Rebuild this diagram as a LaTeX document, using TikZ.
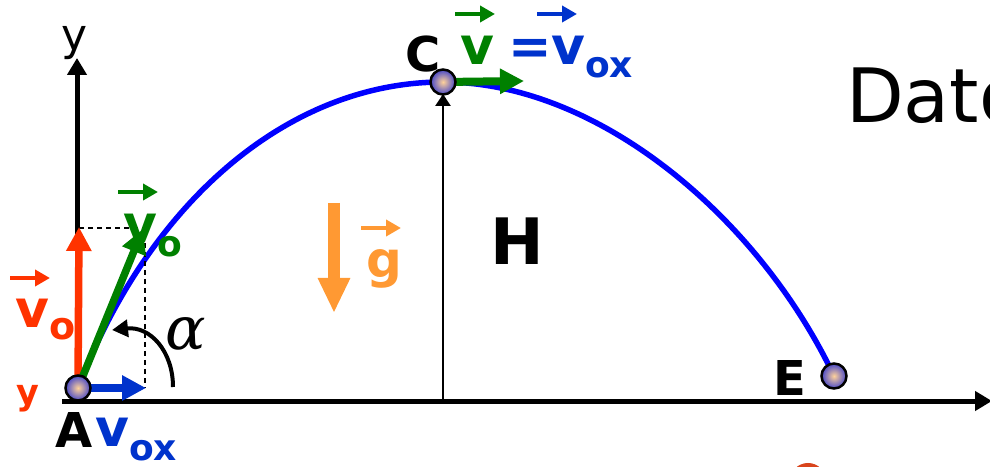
\documentclass[tikz,border=0pt]{standalone}
\usepackage{fontspec}
\setmainfont{DejaVu Sans}
\newfontfamily\grkfont{DejaVu Serif}
\usepackage{xcolor}
\usetikzlibrary{arrows.meta, calc, positioning}

\definecolor{vred}{HTML}{FF3300}
\definecolor{vgreen}{HTML}{008000}
\definecolor{vblue}{HTML}{0033CC}
\definecolor{pathblue}{HTML}{0000FF}
\definecolor{gorange}{HTML}{FF9933}
\definecolor{ballin}{HTML}{FFD29A}
\definecolor{ballout}{HTML}{4848C8}
\definecolor{arcred}{HTML}{D9441C}

\newcommand{\fs}[1]{\fontsize{#1}{#1}\selectfont}
\newcommand{\vsub}[3]{v\raisebox{#2pt}{\fs{#3}#1}}

\tikzset{
  lbl/.style={inner sep=0pt, anchor=base west},
  bigv/.style={lbl, font=\fs{52}\bfseries},
  ptname/.style={lbl, font=\fs{48}\bfseries},
  ball/.style={circle, draw=black, line width=2.5pt, minimum size=25pt,
    inner sep=0pt, inner color=ballin, outer color=ballout},
  vecarrow/.style={line width=4pt, -{Triangle[length=15pt, width=16pt]}},
  axis/.style={line width=5pt, -{Triangle[length=17pt, width=19pt]}},
  comp/.style={line width=7.5pt, -{Triangle[length=24pt, width=24pt]}}
}

\begin{document}
\begin{tikzpicture}[x=1pt, y=1pt]
  \useasboundingbox (0,0) rectangle (990,466);
  \clip (0,0) rectangle (990,466);
  % Points of the flight
  \coordinate (O) at (77,65);
  \coordinate (xend) at (992,65);
  \coordinate (yend) at (77,408);
  \coordinate (Ap) at (78,78);
  \coordinate (Cp) at (443,384);
  \coordinate (Ep) at (834,90);
  \coordinate (Hfoot) at (443,65);
  \coordinate (vyend) at (79,239);
  \coordinate (voend) at (143,237);
  \coordinate (vxend) at (146,78);
  \coordinate (corner) at (145,238);
  \coordinate (vCend) at (524,385);
  \coordinate (gtop) at (334,263);
  \coordinate (gbot) at (334,153);
  % Axes
  \draw[axis] (O) -- (yend);
  \draw[axis] (62,65) -- (xend);
  % Trajectory
  \draw[pathblue, line width=5.5pt] (Ap) .. controls (150,266) and (290,384) .. (Cp)
    .. controls (600,384) and (760,246) .. (Ep);
  % Components at A
  \draw[dashed, line width=1.5pt, dash pattern=on 5pt off 4pt] (vyend |- corner) -- (corner) -- (corner |- Ap);
  \draw[comp, vred] (Ap) -- (vyend);
  \draw[comp, vgreen] (Ap) -- (voend);
  \draw[comp, vblue] (Ap) -- (vxend);
  % Angle
  \draw[line width=4pt, -{Triangle[length=16pt, width=17pt]}] (173,79) .. controls (173,115) and (150,140) .. (112,136);
  \node[lbl, font=\fs{60}\grkfont\itshape] (alpha) at (165,117) {α};
  % Height H
  \draw[line width=2.5pt, -{Triangle[length=12pt, width=15pt]}] (Hfoot) -- ($(Cp)+(0,-12)$);
  \node[lbl, font=\fs{64}\bfseries] (H) at (490,201) {H};
  % Velocity at C
  \draw[comp, vgreen, line width=8pt] (Cp) -- (vCend);
  % Gravity
  \draw[gorange, line width=12pt, -{Triangle[length=35pt, width=30pt]}] (gtop) -- (gbot);
  \node[lbl, gorange, font=\fs{50}\bfseries] (g) at (366,188) {g};
  \draw[vecarrow, gorange] ($(g.base west)+(-5,50)$) -- ++(40,0);
  % Balls
  \node[ball] (A) at (Ap) {};
  \node[ball] (C) at (Cp) {};
  \node[ball] (E) at (Ep) {};
  \node[ptname] (Aname) at (55,19) {A};
  \node[ptname] (Cname) at (405,394) {C};
  \node[ptname] (Ename) at (773,71) {E};
  % Vector labels
  \node[bigv, vblue] (vox) at (95,20) {\vsub{ox}{-14}{36}};
  \node[bigv, vred] (vo) at (15,138) {\vsub{o}{-12}{38}};
  \draw[vecarrow, vred] ($(vo.base west)+(-5,50)$) -- ++(40,0);
  \node[lbl, vred, font=\fs{35}\bfseries] (voy) at (16,62) {y};
  \node[bigv, vgreen] (vog) at (123,223) {\vsub{o}{-14}{36}};
  \draw[vecarrow, vgreen] ($(vog.base west)+(-5,51)$) -- ++(40,0);
  \node[bigv, vgreen] (vC) at (460,401) {v};
  \draw[vecarrow, vgreen] ($(vC.base west)+(-5,51)$) -- ++(40,0);
  \node[lbl, vblue, font=\fs{52}\bfseries] (eq) at (508,401) {=};
  \node[bigv, vblue] (vCx) at (551,401) {\vsub{ox}{-13}{36}};
  \draw[vecarrow, vblue] ($(vCx.base west)+(-14,51)$) -- ++(40,0);
  % Axis name and title
  \node[lbl, font=\fs{44}] (yname) at (61,415) {y};
  \node[lbl, font=\fs{75}] (title) at (846,343) {Datos};
  \draw[arcred, line width=4pt] (808,-15) circle (16);
\end{tikzpicture}
\end{document}
